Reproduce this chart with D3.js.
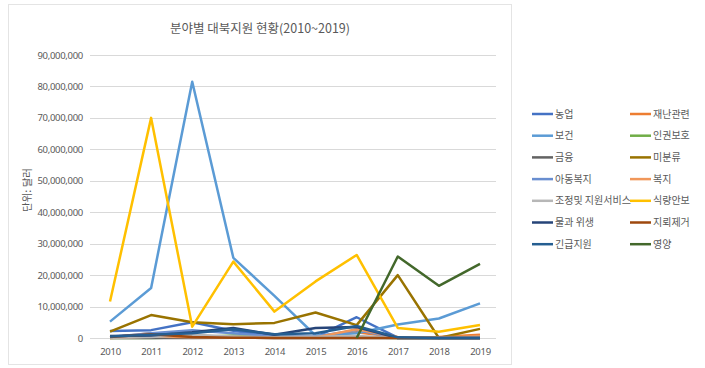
<!DOCTYPE html>
<html>
<head>
<meta charset="utf-8">
<script src="https://cdn.jsdelivr.net/npm/d3@7"></script>
<style>
  body { margin: 0; background: #fff; }
  text { font-family: "Noto Sans CJK KR", "Noto Sans", sans-serif; }
</style>
</head>
<body>
<svg id="chart" width="705" height="368"></svg>
<script>
"use strict";

// Years on the x axis
const years = ["2010", "2011", "2012", "2013", "2014", "2015", "2016", "2017", "2018", "2019"];

// Series names, legend order (row by row)
const seriesNames = [
  "농업", "재난관련", "보건", "인권보호", "금융", "미분류", "아동복지",
  "복지", "조정및 지원서비스", "식량안보", "물과 위생", "지뢰제거", "긴급지원", "영양"
];

const seriesColors = [
  "#4472C4", "#ED7D31", "#5B9BD5", "#70AD47", "#636363", "#997300", "#698ED0",
  "#F1975A", "#B7B7B7", "#FFC000", "#264478", "#9E480E", "#255E91", "#43682B"
];

// Values in millions of dollars
const agriculture  = [2.2, 2.5, 5.0, 2.3, 0.5, 0.3, 6.6, 0.1, 0, 0];
const disaster     = [0.2, 1.5, 0.2, 0.1, 0.3, 0.2, 1.8, 0.2, 0.3, 1.0];
const health       = [5.2, 15.9, 81.5, 25.5, 13.4, 0.8, 1.5, 4.3, 6.2, 11.0];
const humanRights  = [0, 0, 0.2, 0.8, 0.5, 0.1, 0.2, 0, 0, 0];
const finance      = [0, 0, 0, 0.1, 0, 0, 0, 0, 0, 0];
const unclassified = [2.0, 7.3, 5.0, 4.4, 4.8, 8.1, 4.1, 20.0, 0, 2.9];
const childWelfare = [0.3, 1.5, 2.5, 1.5, 0.5, 0.5, 2.5, 0, 0, 0];
const welfare      = [0, 0.5, 0.2, 0.3, 0.1, 0.2, 2.8, 0.3, 0.2, 0.5];
const coordination = [0.1, 0.3, 1.0, 0.5, 0.2, 0.4, 0.6, 0.1, 0.1, 0.3];
const foodSecurity = [11.6, 70.0, 3.6, 24.3, 8.4, 18.0, 26.4, 3.2, 2.0, 4.1];
const waterSanit   = [0.6, 0.8, 1.8, 3.2, 1.0, 3.2, 3.5, 0, 0, 0];
const demining     = [0.3, 1.2, 0.3, 0.1, 0, 0, 0, 0, 0, 0];
const emergency    = [0.5, 1.0, 1.5, 2.8, 1.2, 1.5, 3.8, 0.2, 0, 0];
const nutrition    = [null, null, null, null, null, null, 0, 25.9, 16.6, 23.6];

const seriesValues = [
  agriculture, disaster, health, humanRights, finance, unclassified, childWelfare,
  welfare, coordination, foodSecurity, waterSanit, demining, emergency, nutrition
];

const yTicks = d3.range(0, 90000001, 10000000);

const svg = d3.select("#chart");

// outer frame
svg.append("rect")
  .attr("x", 8.5).attr("y", 4.5)
  .attr("width", 503).attr("height", 360)
  .attr("fill", "#fff").attr("stroke", "#e4e4e4");

const margin = { left: 90, right: 500, top: 55, bottom: 338 };

const x = d3.scalePoint().domain(years).range([110, 480]);
const y = d3.scaleLinear().domain([0, 90000000]).range([margin.bottom, margin.top]);

// gridlines
svg.append("g")
  .selectAll("line")
  .data(yTicks)
  .join("line")
  .attr("x1", margin.left).attr("x2", 496)
  .attr("y1", (d) => Math.round(y(d)) + 0.5)
  .attr("y2", (d) => Math.round(y(d)) + 0.5)
  .attr("stroke", "#d9d9d9");

// y axis labels
const yAxis = d3.axisLeft(y).tickValues(yTicks).tickSize(0).tickPadding(0)
  .tickFormat(d3.format(","));
svg.append("g")
  .attr("transform", "translate(83,0)")
  .call(yAxis)
  .call((g) => g.select(".domain").remove())
  .call((g) => g.selectAll("text")
    .attr("fill", "#595959")
    .style("font-size", "9.5px")
    .style("letter-spacing", "-0.3px")
    .style("font-family", "Noto Sans, sans-serif"));

// x axis labels
const xAxis = d3.axisBottom(x).tickSize(0).tickPadding(10);
svg.append("g")
  .attr("transform", `translate(0, ${margin.bottom})`)
  .call(xAxis)
  .call((g) => g.select(".domain").remove())
  .call((g) => g.selectAll("text")
    .attr("fill", "#595959")
    .style("font-size", "9.5px")
    .style("letter-spacing", "-0.3px")
    .style("font-family", "Noto Sans, sans-serif"));

// lines
const line = d3.line()
  .defined((d) => d != null)
  .x((d, i) => x(years[i]))
  .y((d) => y(d * 1000000));

svg.append("g")
  .selectAll("path")
  .data(seriesValues)
  .join("path")
  .attr("d", line)
  .attr("fill", "none")
  .attr("stroke", (d, i) => seriesColors[i])
  .attr("stroke-width", 2.5)
  .attr("stroke-linejoin", "round");

// title
svg.append("text")
  .attr("x", 260).attr("y", 33)
  .attr("text-anchor", "middle")
  .attr("fill", "#595959")
  .style("font-size", "12.5px")
  .text("분야별 대북지원 현황(2010~2019)");

// y axis title
svg.append("text")
  .attr("transform", "translate(31, 190) rotate(-90)")
  .attr("text-anchor", "middle")
  .attr("fill", "#595959")
  .style("font-size", "10.5px")
  .text("단위: 달러");

// legend
const legend = svg.append("g");
const item = legend.selectAll("g")
  .data(seriesNames)
  .join("g")
  .attr("transform", (d, i) => `translate(${i % 2 === 0 ? 532 : 630}, ${114 + Math.floor(i / 2) * 21.7})`);

item.append("line")
  .attr("x1", 0).attr("x2", 21)
  .attr("stroke", (d, i) => seriesColors[i])
  .attr("stroke-width", 2.5);

item.append("text")
  .attr("x", 23).attr("y", 0)
  .attr("dy", "0.35em")
  .attr("fill", "#595959")
  .style("font-size", "10px")
  .text((d) => d);
</script>
</body>
</html>
